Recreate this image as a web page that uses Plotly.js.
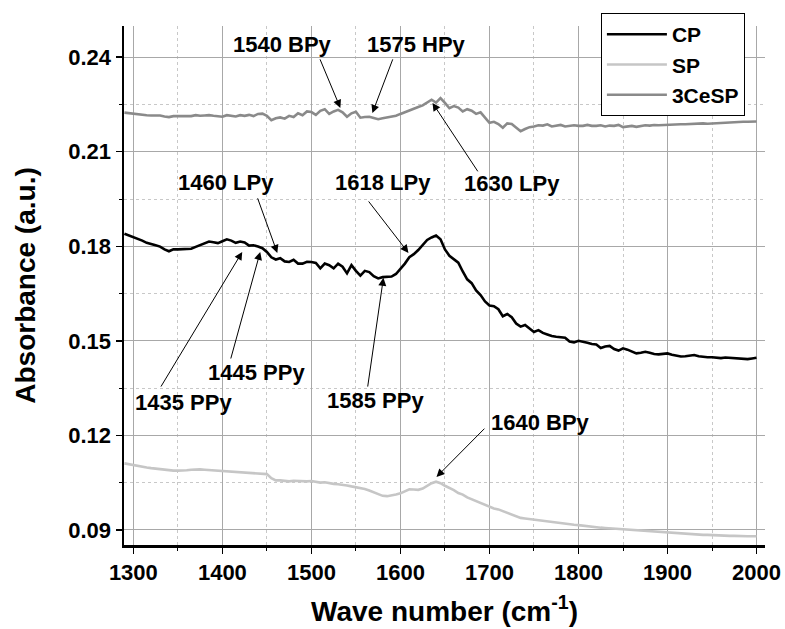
<!DOCTYPE html>
<html>
<head>
<meta charset="utf-8">
<script src="https://cdn.plot.ly/plotly-3.0.1.min.js"></script>
<style>html,body{margin:0;padding:0;background:#fff}#chart{width:785px;height:629px}</style>
</head>
<body>
<div id="chart"></div>
<script>
// Wave numbers (cm^-1)
const waveNumber = [
1290,1295,1300,1305,1310,1315,1320,1325,1330,1335,1340,1345,1350,1355,1360,1365,1370,1375,1380,1385,
1390,1395,1400,1405,1410,1415,1420,1425,1430,1435,1440,1445,1450,1455,1460,1465,1470,1475,1480,1485,
1490,1495,1500,1505,1510,1515,1520,1525,1530,1535,1540,1545,1550,1555,1560,1565,1570,1575,1580,1585,
1590,1595,1600,1605,1610,1615,1620,1625,1630,1635,1640,1645,1650,1655,1660,1665,1670,1675,1680,1685,
1690,1695,1700,1705,1710,1715,1720,1725,1730,1735,1740,1745,1750,1755,1760,1765,1770,1775,1780,1785,
1790,1795,1800,1805,1810,1815,1820,1825,1830,1835,1840,1845,1850,1855,1860,1865,1870,1875,1880,1885,
1890,1895,1900,1905,1910,1915,1920,1925,1930,1935,1940,1945,1950,1955,1960,1965,1970,1975,1980,1985,
1990,1995,2000];

const cpAbs = [
0.1840,0.1835,0.1830,0.1824,0.1818,0.1811,0.1806,0.1803,0.1799,0.1790,0.1784,0.1790,0.1790,0.1790,0.1790,0.1792,0.1798,0.1804,0.1810,0.1815,
0.1813,0.1810,0.1816,0.1822,0.1818,0.1811,0.1815,0.1812,0.1802,0.1803,0.1799,0.1794,0.1782,0.1765,0.1758,0.1762,0.1752,0.1750,0.1757,0.1745,
0.1745,0.1751,0.1750,0.1747,0.1730,0.1745,0.1740,0.1730,0.1745,0.1735,0.1714,0.1740,0.1722,0.1707,0.1722,0.1718,0.1705,0.1698,0.1702,0.1704,
0.1704,0.1712,0.1727,0.1745,0.1765,0.1775,0.1788,0.1805,0.1820,0.1828,0.1834,0.1822,0.1790,0.1770,0.1758,0.1748,0.1720,0.1695,0.1683,0.1660,
0.1645,0.1625,0.1612,0.1610,0.1600,0.1578,0.1585,0.1575,0.1555,0.1545,0.1550,0.1538,0.1528,0.1534,0.1525,0.1520,0.1515,0.1513,0.1512,0.1510,
0.1498,0.1495,0.1500,0.1498,0.1494,0.1490,0.1488,0.1477,0.1482,0.1484,0.1474,0.1469,0.1476,0.1472,0.1465,0.1460,0.1462,0.1465,0.1462,0.1458,
0.1457,0.1458,0.1460,0.1456,0.1453,0.1450,0.1451,0.1454,0.1455,0.1451,0.1449,0.1448,0.1448,0.1447,0.1445,0.1447,0.1446,0.1446,0.1444,0.1443,
0.1442,0.1444,0.1446];

const spAbs = [
0.1111,0.1108,0.1105,0.1102,0.1100,0.1098,0.1096,0.1094,0.1093,0.1091,0.1089,0.1088,0.1088,0.1088,0.1089,0.1091,0.1092,0.1092,0.1091,0.1090,
0.1090,0.1089,0.1087,0.1088,0.1087,0.1085,0.1084,0.1083,0.1081,0.1081,0.1081,0.1080,0.1077,0.1064,0.1057,0.1057,0.1056,0.1054,0.1056,0.1055,
0.1055,0.1054,0.1055,0.1053,0.1050,0.1051,0.1048,0.1046,0.1045,0.1044,0.1041,0.1038,0.1036,0.1033,0.1030,0.1025,0.1019,0.1012,0.1008,0.1007,
0.1009,0.1012,0.1016,0.1023,0.1029,0.1028,0.1027,0.1031,0.1039,0.1048,0.1053,0.1048,0.1040,0.1034,0.1026,0.1017,0.1012,0.1003,0.0997,0.0990,
0.0985,0.0978,0.0973,0.0968,0.0965,0.0960,0.0954,0.0950,0.0943,0.0938,0.0936,0.0934,0.0932,0.0930,0.0929,0.0927,0.0925,0.0923,0.0921,0.0920,
0.0918,0.0916,0.0915,0.0913,0.0912,0.0910,0.0908,0.0907,0.0906,0.0905,0.0904,0.0902,0.0900,0.0899,0.0898,0.0897,0.0896,0.0895,0.0894,0.0893,
0.0893,0.0892,0.0891,0.0890,0.0889,0.0888,0.0887,0.0886,0.0885,0.0885,0.0884,0.0884,0.0883,0.0883,0.0882,0.0882,0.0881,0.0881,0.0880,0.0880,
0.0880,0.0880,0.0880];

const ceSpAbs = [
0.2224,0.2222,0.2221,0.2219,0.2217,0.2216,0.2215,0.2216,0.2215,0.2212,0.2210,0.2213,0.2213,0.2212,0.2214,0.2213,0.2216,0.2214,0.2215,0.2216,
0.2214,0.2212,0.2211,0.2216,0.2215,0.2212,0.2216,0.2214,0.2217,0.2213,0.2220,0.2221,0.2214,0.2200,0.2206,0.2209,0.2205,0.2214,0.2210,0.2222,
0.2216,0.2228,0.2226,0.2217,0.2230,0.2235,0.2220,0.2228,0.2233,0.2225,0.2211,0.2222,0.2227,0.2208,0.2210,0.2211,0.2207,0.2203,0.2206,0.2208,
0.2210,0.2214,0.2220,0.2226,0.2232,0.2236,0.2242,0.2247,0.2256,0.2265,0.2256,0.2270,0.2255,0.2238,0.2245,0.2240,0.2228,0.2235,0.2230,0.2220,
0.2225,0.2210,0.2192,0.2195,0.2188,0.2176,0.2190,0.2188,0.2175,0.2165,0.2172,0.2178,0.2180,0.2184,0.2183,0.2187,0.2180,0.2183,0.2185,0.2180,
0.2182,0.2184,0.2182,0.2182,0.2185,0.2182,0.2182,0.2184,0.2180,0.2183,0.2182,0.2185,0.2178,0.2181,0.2182,0.2179,0.2182,0.2184,0.2183,0.2185,
0.2184,0.2185,0.2186,0.2185,0.2186,0.2187,0.2187,0.2188,0.2188,0.2189,0.2190,0.2189,0.2190,0.2191,0.2192,0.2192,0.2193,0.2194,0.2194,0.2195,
0.2195,0.2196,0.2196];

const seriesNames = ["CP", "SP", "3CeSP"];
const seriesColors = ["#000000", "#c6c6c6", "#8a8a8a"];

// Peak labels: text, text position, arrow tail, arrow tip (data coords)
const peakLabels = ["1540 BPy","1575 HPy","1630 LPy","1460 LPy","1618 LPy","1435 PPy","1445 PPy","1585 PPy","1640 BPy"];
const labelX = [1468, 1618, 1725, 1404, 1580, 1356, 1438, 1572, 1757];
const labelY = [0.2439, 0.2439, 0.2000, 0.2001, 0.2001, 0.1303, 0.1400, 0.1312, 0.1242];
const tailX = [1509, 1592, 1688, 1439, 1563, 1330, 1409, 1563, 1696];
const tailY = [0.2398, 0.2398, 0.2033, 0.1957, 0.1947, 0.1350, 0.1439, 0.1350, 0.1226];
const tipX = [1532.5, 1568.5, 1636, 1461.7, 1609, 1422.3, 1442.5, 1580.9, 1640.5];
const tipY = [0.2239, 0.2223, 0.2255, 0.1779, 0.1779, 0.1782, 0.1782, 0.1700, 0.1068];

const FONT = "Arial, 'Liberation Sans', sans-serif";
const ys = [cpAbs, spAbs, ceSpAbs];
const traces = seriesNames.map((n, i) => ({
  x: waveNumber, y: ys[i], name: n, type: "scatter", mode: "lines",
  line: {color: seriesColors[i], width: 2.6}
}));

const annotations = [];
peakLabels.forEach((t, i) => {
  annotations.push({x: tipX[i], y: tipY[i], ax: tailX[i], ay: tailY[i], axref: "x", ayref: "y",
    xref: "x", yref: "y", text: "", showarrow: true, arrowhead: 2, arrowsize: 1.6,
    arrowwidth: 1, arrowcolor: "#000", standoff: 0, startstandoff: 0});
  annotations.push({x: labelX[i], y: labelY[i], xref: "x", yref: "y", text: "<b>" + t + "</b>",
    showarrow: false, xanchor: "center", yanchor: "middle",
    font: {family: FONT, size: 22, color: "#000"}});
});

const layout = {
  width: 785, height: 629,
  margin: {l: 124, r: 20, t: 26, b: 84},
  paper_bgcolor: "#fff", plot_bgcolor: "#fff",
  font: {family: FONT, color: "#000"},
  showlegend: true,
  legend: {x: 0.744, y: 1.025, xanchor: "left", yanchor: "top",
    bgcolor: "#fff", bordercolor: "#000", borderwidth: 1,
    font: {family: FONT, size: 21, color: "#000", weight: "bold"},
    itemwidth: 60, tracegroupgap: 0},
  xaxis: {
    range: [1289.5, 2009.5], tick0: 1300, dtick: 100,
    showline: true, linecolor: "#000", linewidth: 2.5, zeroline: false,
    ticks: "outside", ticklen: 6, tickwidth: 1.5, tickcolor: "#000",
    showgrid: true, gridcolor: "#a8a8a8", gridwidth: 1,
    tickfont: {family: FONT, size: 22, weight: "bold"},
    minor: {dtick: 50, ticks: "outside", ticklen: 3, tickcolor: "#000", tickwidth: 1,
      showgrid: true, gridcolor: "#c8c8c8", griddash: "dot", gridwidth: 1},
    title: {text: "<b>Wave number (cm<sup>-1</sup>)</b>", font: {family: FONT, size: 28}, standoff: 18}
  },
  yaxis: {
    range: [0.0852, 0.2499], tick0: 0.09, dtick: 0.03, tickformat: ".2f",
    showline: true, linecolor: "#000", linewidth: 2.5, zeroline: false,
    ticks: "outside", ticklen: 6, tickwidth: 1.5, tickcolor: "#000",
    showgrid: true, gridcolor: "#a8a8a8", gridwidth: 1,
    tickfont: {family: FONT, size: 22, weight: "bold"},
    minor: {dtick: 0.015, ticks: "outside", ticklen: 3, tickcolor: "#000", tickwidth: 1,
      showgrid: true, gridcolor: "#c8c8c8", griddash: "dot", gridwidth: 1},
    title: {text: "<b>Absorbance (a.u.)</b>", font: {family: FONT, size: 28}, standoff: 25}
  },
  annotations: annotations
};

Plotly.newPlot("chart", traces, layout, {displayModeBar: false, staticPlot: true});
</script>
</body>
</html>
